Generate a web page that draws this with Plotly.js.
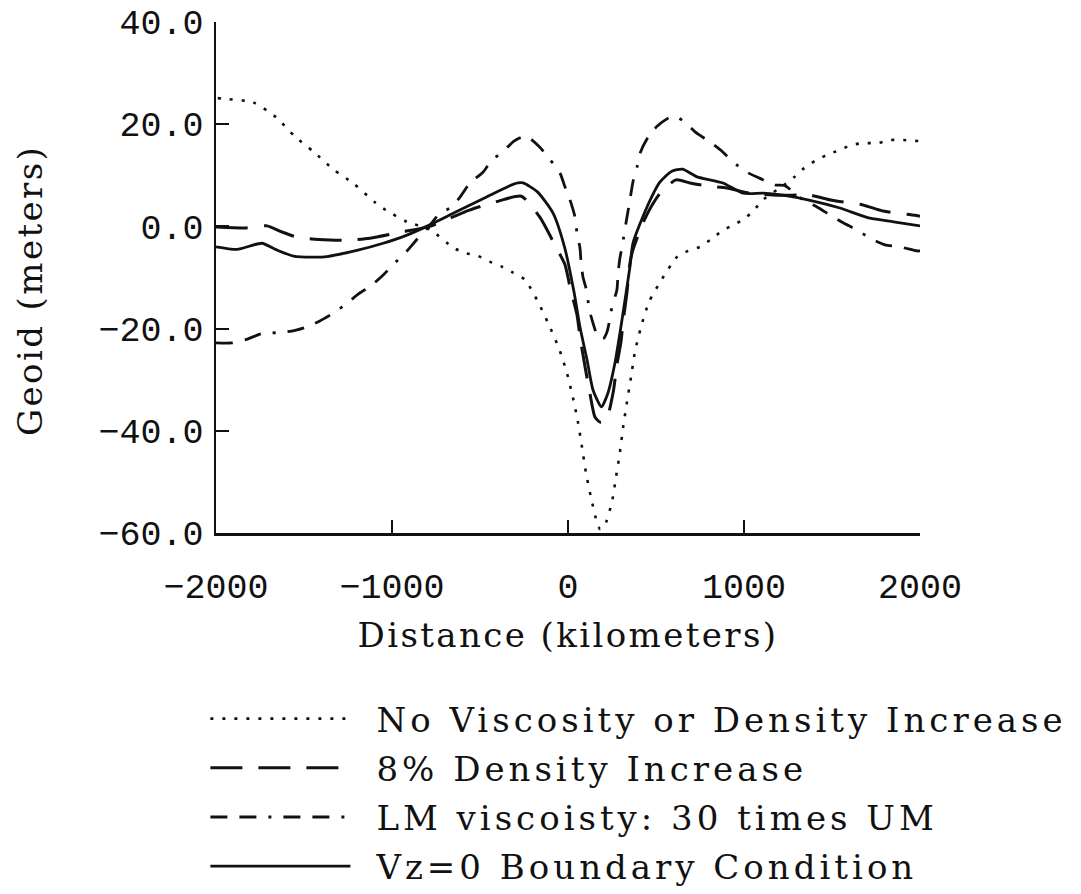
<!DOCTYPE html>
<html>
<head>
<meta charset="utf-8">
<script src="https://cdn.plot.ly/plotly-3.0.1.min.js"></script>
<style>
  html, body { margin: 0; padding: 0; background: #ffffff; }
  #chart { width: 1081px; height: 894px; }
  /* typewriter-like spacing for the serif captions */
  .legendtext { letter-spacing: 4px; }
  #chart .legendtext { transform: translateX(21px); }
  #chart .legend .scrollbox { clip-path: none; }
  .xtitle { letter-spacing: 2.4px; }
  .annotation-text { letter-spacing: 2.4px; }
</style>
</head>
<body>
<div id="chart"></div>
<script>
// Geoid profiles across the slab (distance in km, geoid height in m)

// No viscosity or density increase
const noViscX = [-1990, -1930, -1790, -1660, -1555, -1445, -1335, -1215, -1100, -1035, -915, -785, -650, -585, -510, -445, -375, -315, -245, -170, -108, -50, -6, 28, 57, 80, 102, 131, 165, 182, 205, 250, 273, 295, 313, 335, 358, 381, 415, 460, 534, 619, 682, 750, 813, 875, 938, 1000, 1057, 1108, 1227, 1284, 1341, 1403, 1472, 1540, 1608, 1676, 1761, 1830, 1903, 1990];
const noViscY = [25.1, 24.9, 24.3, 21.4, 17.7, 14.6, 11.2, 8.3, 4.8, 3.2, 0.9, -0.6, -4.2, -5.2, -5.8, -6.9, -7.9, -9.0, -10.4, -14.8, -19.3, -24.0, -28.7, -33.5, -38.4, -43.3, -48.2, -53.1, -58.0, -59.2, -58.8, -53.9, -49.0, -44.2, -39.3, -34.4, -29.5, -24.4, -19.7, -14.8, -10.3, -6.0, -4.8, -4.0, -2.5, -0.9, 0.3, 1.4, 3.2, 5.2, 8.1, 9.6, 11.4, 12.8, 14.0, 14.9, 15.9, 16.3, 16.3, 16.9, 16.9, 16.7];

// 8% density increase
const densX = [-2000, -1830, -1710, -1625, -1540, -1440, -1320, -1250, -1125, -945, -785, -560, -390, -265, -160, -75, -17, 11, 51, 68, 97, 119, 153, 182, 216, 256, 278, 301, 313, 335, 352, 369, 438, 523, 614, 693, 790, 903, 1035, 1205, 1375, 1500, 1675, 1790, 1970, 2000];
const densY = [-0.1, -0.3, 0.1, -1.1, -2.1, -2.5, -2.7, -2.7, -2.3, -1.1, 0.0, 3.2, 5.0, 5.9, 1.8, -3.6, -7.5, -11.8, -17.3, -21.6, -27.5, -31.6, -37.3, -38.3, -38.0, -32.6, -27.1, -22.6, -18.7, -12.9, -7.2, -4.6, 1.6, 6.5, 9.1, 8.5, 7.9, 7.5, 6.5, 6.1, 6.1, 5.1, 4.2, 3.0, 2.2, 2.0];

// Lower-mantle viscosity 30 times upper mantle
const lmViscX = [-2000, -1910, -1835, -1740, -1655, -1570, -1485, -1410, -1325, -1255, -1190, -1115, -1050, -985, -920, -860, -800, -727, -670, -614, -557, -483, -432, -370, -307, -240, -160, -100, -45, -17, 11, 40, 51, 68, 74, 85, 108, 119, 142, 170, 200, 222, 239, 250, 278, 284, 295, 307, 335, 352, 369, 392, 409, 455, 506, 580, 610, 665, 722, 807, 875, 938, 1017, 1091, 1176, 1230, 1335, 1415, 1490, 1563, 1642, 1716, 1801, 1886, 1983, 2000];
const lmViscY = [-22.8, -22.8, -22.2, -21.0, -20.8, -20.5, -19.7, -18.5, -16.8, -15.0, -13.2, -11.5, -9.5, -7.2, -5.0, -2.6, -0.4, 2.6, 3.6, 5.7, 8.5, 10.6, 13.0, 14.6, 16.7, 17.7, 15.5, 13.0, 10.4, 7.7, 5.2, 1.8, -1.3, -4.2, -6.9, -9.9, -12.8, -16.0, -18.9, -21.6, -22.0, -20.6, -17.9, -15.7, -12.4, -9.4, -6.2, -4.0, 1.8, 5.2, 8.7, 11.6, 14.3, 17.5, 19.6, 21.4, 21.5, 20.4, 18.5, 16.5, 14.7, 12.6, 10.6, 9.4, 8.1, 8.0, 5.2, 3.8, 2.2, 0.7, -0.7, -2.3, -3.6, -4.0, -4.8, -4.8];

// Vz = 0 boundary condition
const vzX = [-2000, -1880, -1740, -1655, -1560, -1450, -1370, -1200, -1050, -915, -785, -615, -460, -340, -285, -255, -175, -85, -20, 35, 68, 108, 142, 190, 227, 267, 295, 324, 352, 369, 449, 523, 590, 650, 733, 880, 995, 1110, 1220, 1375, 1545, 1715, 1850, 2000];
const vzY = [-4.0, -4.5, -3.3, -4.6, -5.8, -6.0, -5.9, -4.7, -3.3, -1.7, 0.3, 3.2, 5.8, 7.8, 8.5, 8.5, 6.8, 2.6, -4.0, -13.0, -19.7, -26.1, -32.0, -35.3, -32.6, -26.7, -20.9, -14.4, -7.9, -3.3, 3.8, 8.7, 10.8, 11.2, 9.7, 8.5, 6.5, 6.5, 6.1, 5.1, 3.6, 1.6, 0.9, 0.1];

const seriesNames = [
  'No Viscosity or Density Increase',
  '8% Density Increase',
  'LM viscoisty: 30 times UM',
  'Vz=0 Boundary Condition'
];

const xTicks = [-2000, -1000, 0, 1000, 2000];
const xTickText = ['\u22122000', '\u22121000', '0', '1000', '2000'];
const yTicks = [-60, -40, -20, 0, 20, 40];
const yTickText = ['\u221260.0', '\u221240.0', '\u221220.0', '0.0', '20.0', '40.0'];
const xTitle = 'Distance (kilometers)';
const yTitle = 'Geoid (meters)';

const TICK_FONT = 'Liberation Mono, monospace';
const TEXT_FONT = 'DejaVu Serif, serif';
const INK = '#111111';

function curve(x, y, name, dash, width, group) {
  return {
    type: 'scatter', mode: 'lines', x: x, y: y, name: name, legendgroup: group,
    line: { color: INK, width: width, dash: dash, shape: 'spline', smoothing: 0.6 },
    hoverinfo: 'skip'
  };
}

const traces = [
  curve(noViscX, noViscY, seriesNames[0], '3px,9px', 2.6, 'a'),
  curve(densX, densY, seriesNames[1], '32px,16px', 3, 'b'),
  curve(lmViscX, lmViscY, seriesNames[2], '17px,12px,17px,12px,3px,12px', 2.8, 'c'),
  curve(vzX, vzY, seriesNames[3], 'solid', 2.8, 'd')
];

const layout = {
  width: 1081, height: 894,
  paper_bgcolor: '#ffffff', plot_bgcolor: '#ffffff',
  margin: { l: 216, r: 161, t: 22, b: 361, autoexpand: false },
  font: { family: TEXT_FONT, color: INK },
  showlegend: true,
  xaxis: {
    range: [-2000, 2000], tickvals: xTicks, ticktext: xTickText,
    ticks: 'inside', ticklen: 13, tickwidth: 2, tickcolor: INK,
    showline: true, linewidth: 2.5, linecolor: INK,
    showgrid: false, zeroline: false,
    tickfont: { family: TICK_FONT, size: 35, color: INK },
    ticklabelstandoff: 20,
    title: { text: xTitle, font: { family: TEXT_FONT, size: 34, color: INK } }
  },
  yaxis: {
    range: [-60, 40], tickvals: yTicks, ticktext: yTickText,
    ticks: 'inside', ticklen: 13, tickwidth: 2, tickcolor: INK,
    showline: true, linewidth: 2.5, linecolor: INK,
    showgrid: false, zeroline: false,
    tickfont: { family: TICK_FONT, size: 35, color: INK },
    ticklabelstandoff: 3
  },
  annotations: [{
    text: yTitle, textangle: -90, showarrow: false,
    xref: 'paper', yref: 'paper',
    x: (30 - 216) / 704, y: (533 - 291) / 511,
    xanchor: 'center', yanchor: 'middle',
    font: { family: TEXT_FONT, size: 34, color: INK }
  }],
  legend: {
    xref: 'container', yref: 'container',
    x: 0.19, y: 1 - 690 / 894, xanchor: 'left', yanchor: 'top',
    orientation: 'v', itemwidth: 140, tracegroupgap: 2,
    font: { family: TEXT_FONT, size: 34, color: INK },
    bgcolor: 'rgba(0,0,0,0)', borderwidth: 0
  }
};

Plotly.newPlot('chart', traces, layout, { displayModeBar: false, staticPlot: true });
</script>
</body>
</html>
